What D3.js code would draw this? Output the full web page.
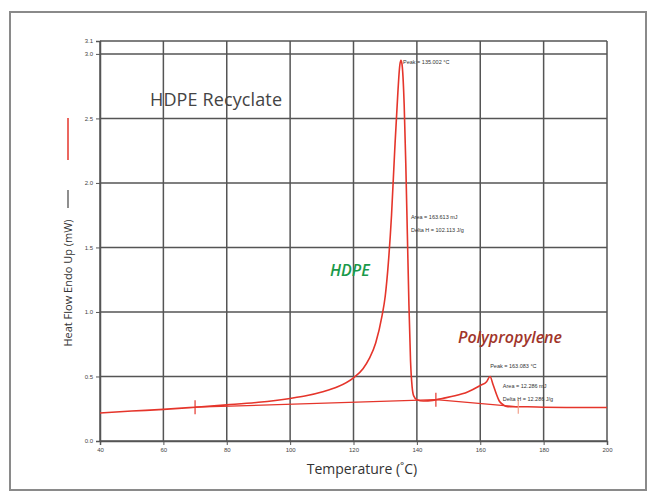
<!DOCTYPE html>
<html>
<head>
<meta charset="utf-8">
<script src="https://cdn.jsdelivr.net/npm/d3@7"></script>
<style>
  body { margin: 0; background: #fff; }
  svg { display: block; }
</style>
</head>
<body>
<svg width="656" height="497"></svg>
<script>
const svg = d3.select('svg')

// data
const temps = [40, 50, 60, 70, 80, 90, 100, 105, 110, 115, 120, 123, 125, 127, 129, 130, 131, 132, 133, 134, 134.6, 135.0, 135.4, 136, 136.5, 137, 137.5, 138, 138.5, 139, 140, 142, 145, 148, 152, 156, 160, 162, 163.1, 164, 165, 166, 167, 168, 170, 175, 180, 190, 200];
const heatFlow = [0.217, 0.232, 0.245, 0.262, 0.28, 0.30, 0.33, 0.35, 0.38, 0.42, 0.49, 0.56, 0.64, 0.76, 0.97, 1.12, 1.38, 1.75, 2.25, 2.70, 2.91, 2.95, 2.90, 2.60, 2.15, 1.60, 1.05, 0.62, 0.42, 0.35, 0.32, 0.31, 0.315, 0.33, 0.35, 0.38, 0.43, 0.46, 0.50, 0.44, 0.37, 0.31, 0.285, 0.27, 0.265, 0.265, 0.262, 0.26, 0.26];

// integration baselines [tStart, yStart, tEnd, yEnd]
const baselines = [[70, 0.262, 146, 0.32], [146, 0.32, 172, 0.265]];
const limitMarks = [70, 146, 172];
const limitValues = [0.262, 0.32, 0.265];

const xTicks = [40, 60, 80, 100, 120, 140, 160, 180, 200];
const yTicks = [0, 0.5, 1.0, 1.5, 2.0, 2.5, 3.0, 3.1];

const peakNotes = [
  { t: 135.0, v: 2.95, lines: ['Peak = 135.002 °C'] },
  { t: 137.5, v: 1.75, lines: ['Area = 163.613 mJ', 'Delta H = 102.113 J/g'] },
  { t: 162.5, v: 0.60, lines: ['Peak = 163.083 °C'] },
  { t: 166.5, v: 0.44, lines: ['Area = 12.286 mJ', 'Delta H = 12.286 J/g'] }
];

const margin = { left: 100, right: 607, top: 41, bottom: 441 };

const x = d3.scaleLinear().domain([40, 200]).range([margin.left, margin.right]);
const y = d3.scaleLinear().domain([0, 3.1]).range([margin.bottom, margin.top]);

// outer frame
svg.append('rect')
  .attr('x', 10).attr('y', 12).attr('width', 636).attr('height', 478)
  .attr('fill', 'none').attr('stroke', '#8a8a8a').attr('stroke-width', 2);

// grid
const grid = svg.append('g');
grid.selectAll('.vg').data(xTicks).enter().append('line')
  .attr('x1', d => x(d)).attr('x2', d => x(d))
  .attr('y1', margin.top).attr('y2', margin.bottom)
  .attr('stroke', '#555').attr('stroke-width', 1.5);
grid.selectAll('.hg').data(yTicks).enter().append('line')
  .attr('x1', margin.left).attr('x2', margin.right)
  .attr('y1', d => y(d)).attr('y2', d => y(d))
  .attr('stroke', '#555').attr('stroke-width', 1.5);

// axes
const xAxis = d3.axisBottom(x).tickValues(xTicks).tickSize(4).tickFormat(d3.format('d'));
const yAxis = d3.axisLeft(y).tickValues(yTicks).tickSize(4).tickFormat(d3.format('.1f'));

const gx = svg.append('g').attr('transform', `translate(0,${margin.bottom})`).call(xAxis);
const gy = svg.append('g').attr('transform', `translate(${margin.left},0)`).call(yAxis);
[gx, gy].forEach(g => {
  g.select('.domain').attr('stroke', '#555').attr('stroke-width', 1.5);
  g.selectAll('.tick line').attr('stroke', '#555');
  g.selectAll('.tick text').attr('fill', '#444').style('font', '6px "Liberation Sans"');
});

// curve
const line = d3.line()
  .x((d, i) => x(temps[i]))
  .y(d => y(d))
  .curve(d3.curveMonotoneX);

svg.append('path')
  .datum(heatFlow)
  .attr('d', line)
  .attr('fill', 'none')
  .attr('stroke', '#e5352b')
  .attr('stroke-width', 1.6);

svg.selectAll('.base').data(baselines).enter().append('line')
  .attr('x1', d => x(d[0])).attr('y1', d => y(d[1]))
  .attr('x2', d => x(d[2])).attr('y2', d => y(d[3]))
  .attr('stroke', '#e5352b').attr('stroke-width', 1.2);

svg.selectAll('.mark').data(limitMarks).enter().append('line')
  .attr('x1', d => x(d)).attr('x2', d => x(d))
  .attr('y1', (d, i) => y(limitValues[i]) - 7)
  .attr('y2', (d, i) => y(limitValues[i]) + 7)
  .attr('stroke', (d, i) => i == 2 ? '#f2a08c' : '#e5352b').attr('stroke-width', 1.2);

// peak notes
peakNotes.forEach(n => {
  const t = svg.append('text')
    .attr('x', x(n.t) + 2).attr('y', y(n.v) + 4)
    .attr('fill', '#333')
    .style('font', '5.5px "Liberation Sans"');
  n.lines.forEach((l, i) => {
    t.append('tspan').attr('x', x(n.t) + 2).attr('dy', i == 0 ? 0 : 13).text(l);
  });
});

// labels
svg.append('text')
  .attr('x', 150).attr('y', 106)
  .attr('fill', '#444')
  .style('font', '500 18px "Open Sans"')
  .attr('textLength', 132)
  .text('HDPE Recyclate');

svg.append('text')
  .attr('x', 330).attr('y', 276)
  .attr('fill', '#1a9a4a')
  .style('font', 'italic 600 16px "Open Sans"')
  .text('HDPE');

svg.append('text')
  .attr('x', 458).attr('y', 343)
  .attr('fill', '#a1352a')
  .style('font', 'italic 600 16px "Open Sans"')
  .attr('textLength', 104)
  .text('Polypropylene');

svg.append('text')
  .attr('x', 362).attr('y', 474)
  .attr('text-anchor', 'middle')
  .attr('fill', '#333')
  .style('font', '14px "Open Sans"')
  .text('Temperature (˚C)');

svg.append('text')
  .attr('transform', 'translate(72,283) rotate(-90)')
  .attr('text-anchor', 'middle')
  .attr('fill', '#333')
  .style('font', '11px "Open Sans"')
  .text('Heat Flow Endo Up (mW)');

// legend marks beside y label
svg.append('line')
  .attr('x1', 68).attr('x2', 68).attr('y1', 118).attr('y2', 160)
  .attr('stroke', '#e5352b').attr('stroke-width', 1.5);
svg.append('line')
  .attr('x1', 68).attr('x2', 68).attr('y1', 190).attr('y2', 208)
  .attr('stroke', '#444').attr('stroke-width', 1.2);
</script>
</body>
</html>
